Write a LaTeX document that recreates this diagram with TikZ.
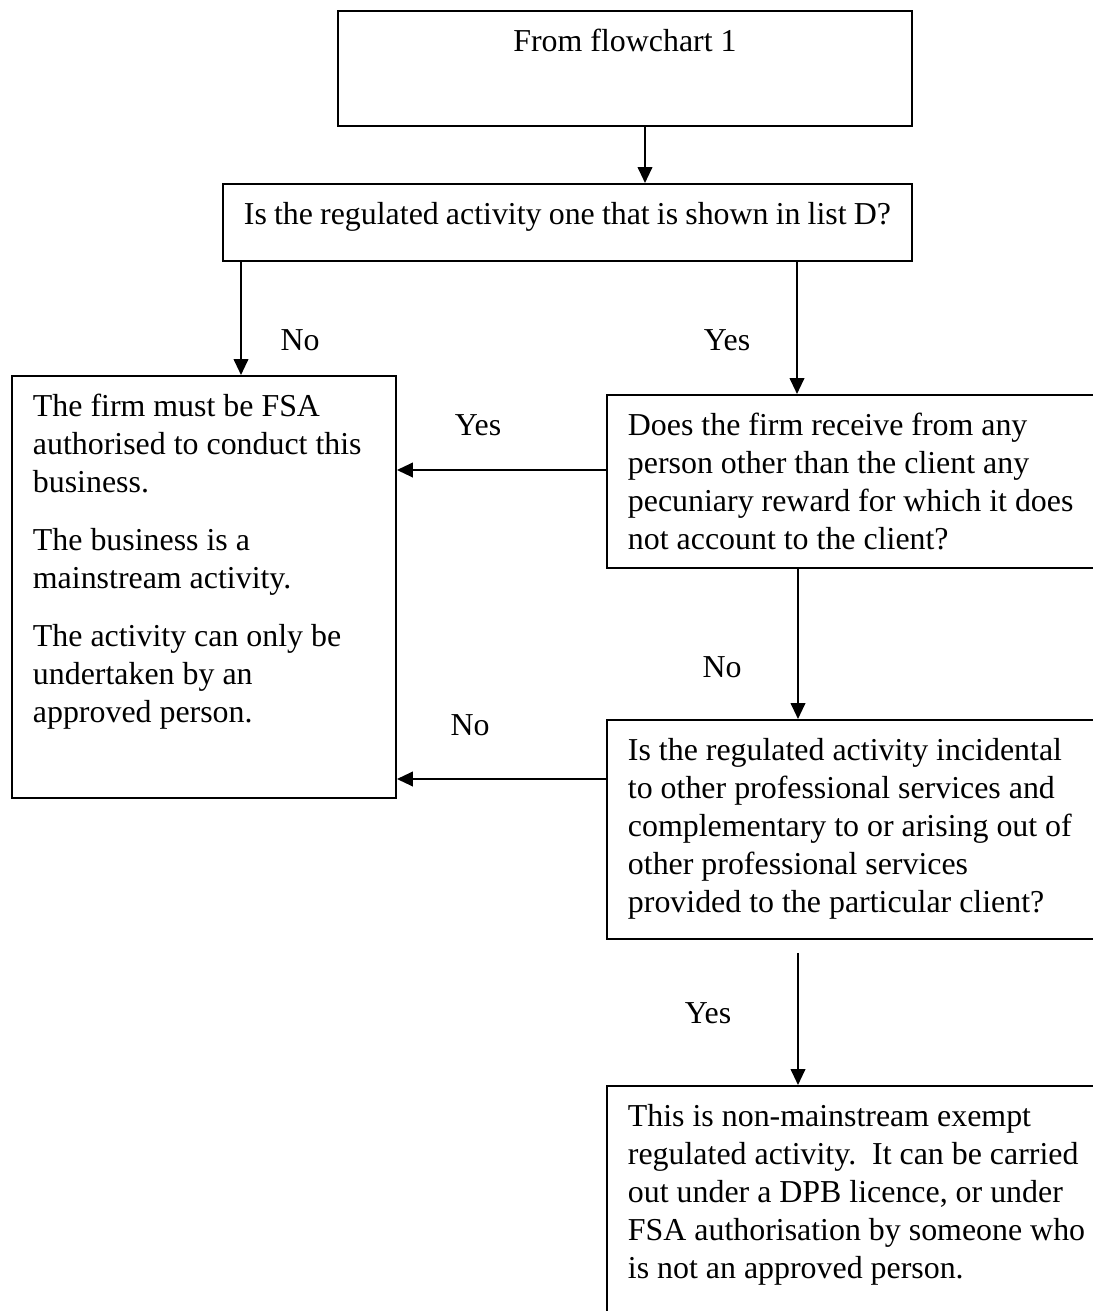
\documentclass[tikz,border=0pt]{standalone}
\usepackage{fontspec}
\setmainfont{Liberation Serif}
\usepackage{tikz}
\usetikzlibrary{positioning,arrows.meta,calc}

% top-aligned text inside a box of fixed size
\newcommand{\boxtext}[3]{\parbox[c][#2][t]{#1}{\raggedright\strut #3}}

\begin{document}
\begin{tikzpicture}[
  x=0.36364pt, y=-0.36364pt,
  box/.style={draw, line width=0.75pt, anchor=north west, inner xsep=7.6pt,
              inner ysep=5pt, font=\fontsize{11.6}{13.8}\selectfont},
  arr/.style={-{Triangle[length=5.8pt,width=5.3pt]}, line width=0.75pt},
  lab/.style={font=\fontsize{11.6}{13.8}\selectfont, inner sep=1pt},
]
\useasboundingbox (0,0) rectangle (1093,1311);
\clip (0,0) rectangle (1093,1311);

% ====== boxes ======
\node[box] (start) at (337,10)  {\boxtext{193.5pt}{31.8pt}{\centering From flowchart 1}};
\node[box] (listd) at (222,183) {\boxtext{235.3pt}{18pt}{Is the regulated activity one that is shown in list D?}};
\node[box] (fsa)   at (11,375)  {\boxtext{124.4pt}{143.5pt}{The firm must be FSA\\
  authorised to conduct this\\ business.\\[7.3pt]
  The business is a\\ mainstream activity.\\[7.3pt]
  The activity can only be\\ undertaken by an\\ approved person.}};
\node[box] (reward) at (606,394) {\boxtext{171.7pt}{52.9pt}{Does the firm receive from any\\
  person other than the client any\\ pecuniary reward for which it does\\
  not account to the client?}};
\node[box] (incid) at (606,719) {\boxtext{171.7pt}{69.6pt}{Is the regulated activity incidental\\
  to other professional services and\\ complementary to or arising out of\\
  other professional services\\ provided to the particular client?}};
\node[box] (exempt) at (606,1085) {\boxtext{171.7pt}{80.9pt}{This is non-mainstream exempt\\
  regulated activity.\ \ It can be carried\\ out under a DPB licence, or under\\
  FSA authorisation by someone who\\ is not an approved person.}};

% ====== connectors ======
\coordinate (s1) at ($(start.south west)+(308,0)$);
\draw[arr] (s1) -- (s1 |- listd.north);

\coordinate (l1) at ($(listd.south west)+(19,0)$);
\draw[arr] (l1) -- (l1 |- fsa.north);
\coordinate (l2) at ($(listd.south west)+(575,0)$);
\draw[arr] (l2) -- (l2 |- reward.north);

\coordinate (r1) at ($(reward.north west)+(0,76)$);
\draw[arr] (r1) -- (r1 -| fsa.east);
\coordinate (r2) at ($(reward.south west)+(192,0)$);
\draw[arr] (r2) -- (r2 |- incid.north);

\coordinate (i1) at ($(incid.north west)+(0,60)$);
\draw[arr] (i1) -- (i1 -| fsa.east);
\coordinate (i2) at ($(incid.south west)+(192,13)$);
\draw[arr] (i2) -- (i2 |- exempt.north);

% ====== labels ======
\node[lab] (nolistd)  at (300,340)  {No};
\node[lab] (yeslistd) at (727,340)  {Yes};
\node[lab] (yesrew)   at (478,425)  {Yes};
\node[lab] (norew)    at (722,667)  {No};
\node[lab] (noinc)    at (470,725)  {No};
\node[lab] (yesinc)   at (708,1013) {Yes};

\end{tikzpicture}
\end{document}
